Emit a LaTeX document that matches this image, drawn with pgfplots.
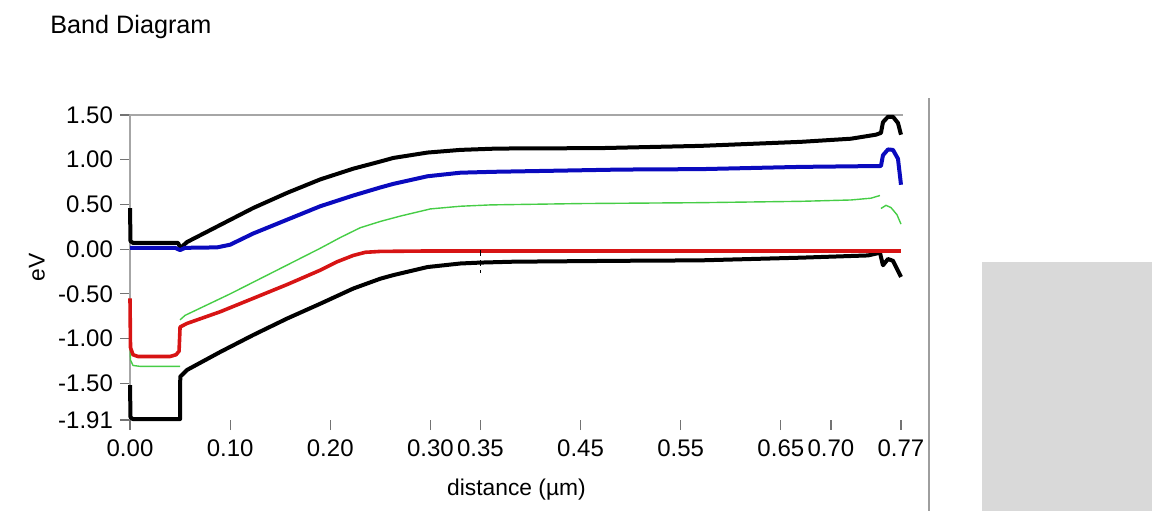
\documentclass[border=0pt]{standalone}
\usepackage{pgfplots}
\pgfplotsset{compat=1.18}
\usepackage{fontspec}
\setmainfont{Liberation Sans}
\definecolor{cblue}{RGB}{10,10,190}
\definecolor{cred}{RGB}{215,20,20}
\definecolor{cgreen}{RGB}{70,205,70}
\begin{document}
\begin{tikzpicture}
\path[use as bounding box] (0pt,0pt) rectangle (576pt,-255.5pt);
\fill[black!15] (491pt,-131pt) rectangle (576pt,-255.5pt);
\draw[black!38, line width=0.6pt] (464.5pt,-49pt) -- (464.5pt,-255.5pt);
\node[anchor=base west, font=\fontsize{12.6}{14}\selectfont, inner sep=0pt] at (25pt,-16.5pt) {Band Diagram};
\begin{axis}[
  at={(65pt,-210pt)}, anchor=south west,
  scale only axis, width=386.5pt, height=152.5pt,
  xmin=0, xmax=0.772, ymin=-1.91, ymax=1.50,
  clip=false,
  axis line style={draw=none},
  xtick={0,0.10,0.20,0.30,0.35,0.45,0.55,0.65,0.70,0.77},
  xticklabels={0.00,0.10,0.20,0.30,0.35,0.45,0.55,0.65,0.70,0.77},
  ytick={1.5,1,0.5,0,-0.5,-1,-1.5,-1.91},
  yticklabels={1.50,1.00,0.50,0.00,-0.50,-1.00,-1.50,-1.91},
  xtick pos=bottom, ytick pos=left,
  tick align=outside, major tick length=5pt,
  tick style={color=black!55, line width=0.6pt},
  tick label style={font=\fontsize{12}{13}\selectfont},
  xticklabel style={yshift=-1.2pt},
  xlabel={distance (µm)}, ylabel={eV},
  label style={font=\fontsize{11.4}{13}\selectfont},
  xlabel style={at={(axis description cs:0.5,-0.2459)}, anchor=base},
  ylabel style={at={(axis description cs:-0.1203,0.5)}, anchor=center},
  line join=round,
]
\draw[black!35, line width=0.6pt] (rel axis cs:0,0) -- (rel axis cs:0,1) -- (rel axis cs:1,1);
% green (intrinsic level)
\addplot[cgreen, line width=0.7pt] coordinates {
(0,-0.95) (0.0005,-1.24) (0.003,-1.30) (0.010,-1.31) (0.050,-1.31)};
\addplot[cgreen, line width=0.7pt] coordinates {
(0.050,-0.79) (0.055,-0.74) (0.070,-0.66) (0.100,-0.50) (0.130,-0.33) (0.160,-0.16)
(0.190,0.01) (0.210,0.13) (0.230,0.24) (0.250,0.31) (0.270,0.37) (0.300,0.45)
(0.330,0.48) (0.360,0.495) (0.450,0.51) (0.570,0.52) (0.670,0.535) (0.720,0.55)
(0.740,0.57) (0.749,0.60)};
\addplot[cgreen, line width=0.7pt] coordinates {
(0.750,0.455) (0.755,0.49) (0.760,0.465) (0.766,0.385) (0.770,0.28)};
% top black
\addplot[black, line width=2pt] coordinates {
(0,0.46) (0.0005,0.09) (0.003,0.07) (0.048,0.07) (0.050,0.02) (0.052,0.03) (0.057,0.08)
(0.09,0.27) (0.123,0.46) (0.157,0.63) (0.19,0.78) (0.223,0.90) (0.25,0.98) (0.263,1.02)
(0.297,1.08) (0.33,1.11) (0.367,1.125) (0.47,1.13) (0.57,1.155) (0.67,1.20) (0.72,1.235)
(0.745,1.28) (0.750,1.30) (0.752,1.42) (0.757,1.48) (0.762,1.48) (0.767,1.41) (0.770,1.28)};
% bottom black
\addplot[black, line width=2pt] coordinates {
(0,-1.52) (0.0005,-1.88) (0.003,-1.90) (0.050,-1.90) (0.0502,-1.425) (0.057,-1.35)
(0.09,-1.15) (0.123,-0.96) (0.157,-0.775) (0.19,-0.61) (0.223,-0.44) (0.25,-0.33)
(0.263,-0.29) (0.297,-0.20) (0.33,-0.16) (0.35,-0.15) (0.383,-0.14) (0.49,-0.13)
(0.57,-0.125) (0.67,-0.095) (0.737,-0.07) (0.749,-0.04) (0.752,-0.18) (0.757,-0.11)
(0.762,-0.13) (0.770,-0.31)};
% blue
\addplot[cblue, line width=2pt] coordinates {
(0,0.015) (0.045,0.015) (0.050,-0.01) (0.055,0.015) (0.087,0.02) (0.10,0.05) (0.123,0.175)
(0.157,0.33) (0.19,0.48) (0.223,0.60) (0.25,0.69) (0.263,0.73) (0.297,0.815) (0.33,0.855)
(0.363,0.865) (0.49,0.89) (0.57,0.895) (0.67,0.92) (0.750,0.93) (0.752,1.05) (0.757,1.115)
(0.762,1.11) (0.767,1.01) (0.770,0.72)};
% red
\addplot[cred, line width=1.8pt] coordinates {
(0,-0.55) (0.0005,-1.10) (0.003,-1.18) (0.008,-1.20) (0.040,-1.20) (0.046,-1.18)
(0.049,-1.14) (0.050,-0.87) (0.057,-0.83) (0.09,-0.70) (0.123,-0.55) (0.157,-0.395)
(0.19,-0.235) (0.207,-0.14) (0.223,-0.07) (0.235,-0.035) (0.25,-0.025) (0.30,-0.02)
(0.770,-0.02)};
% cursor marker
\addplot[black, densely dashed, line width=0.6pt] coordinates {(0.35,-0.01) (0.35,-0.27)};
\end{axis}
\end{tikzpicture}
\end{document}
